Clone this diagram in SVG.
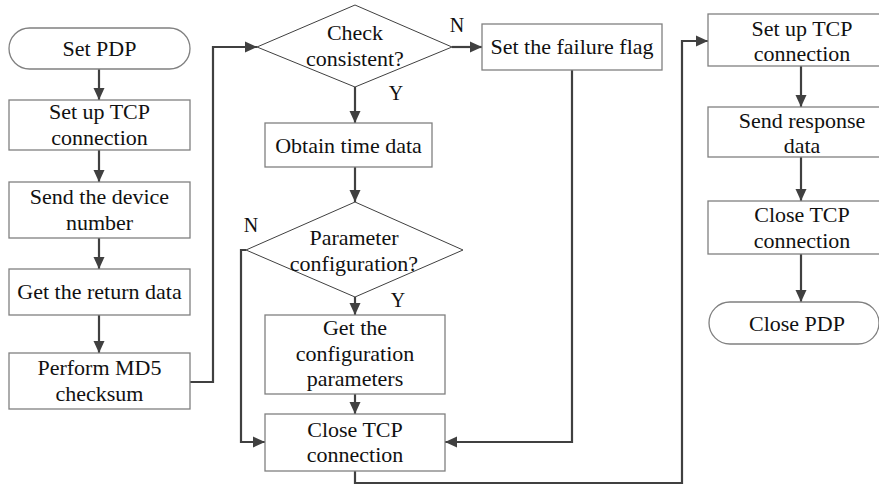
<svg xmlns="http://www.w3.org/2000/svg" width="879" height="484" viewBox="0 0 879 484">
<defs>
<marker id="arr" markerUnits="userSpaceOnUse" markerWidth="12" markerHeight="12" refX="12" refY="6" orient="auto">
<path d="M0,0.5 L12,6 L0,11.5 z" fill="#404040"/>
</marker>
<style>
.box{fill:#fff;stroke:#808080;stroke-width:1.3}
.dia{fill:#fff;stroke:#404040;stroke-width:1}
.t{font-family:'Liberation Serif','Times New Roman',Times,serif;font-size:22px;fill:#111;text-anchor:middle}
.lbl{font-family:'Liberation Serif','Times New Roman',Times,serif;font-size:20px;fill:#111;text-anchor:middle}
.c{fill:none;stroke:#404040;stroke-width:2.2;marker-end:url(#arr)}
</style>
</defs>
<rect width="879" height="484" fill="#fff"/>
<g id="connectors">
<path class="c" d="M99,69 V100"/>
<path class="c" d="M99,150 V182"/>
<path class="c" d="M99,238 V269"/>
<path class="c" d="M99,315 V353"/>
<path class="c" d="M190,382 H213 V47 H257"/>
<path class="c" d="M452,47 H482"/>
<path class="c" d="M355,87 V123"/>
<path class="c" d="M355,167 V202"/>
<path class="c" d="M355,297 V315"/>
<path class="c" d="M355,394 V414"/>
<path class="c" d="M246,250 H241 V442 H265"/>
<path class="c" d="M572,70 V442 H445"/>
<path class="c" d="M355,471 V483 H682 V41 H708"/>
<path class="c" d="M801,66 V107"/>
<path class="c" d="M801,157 V201"/>
<path class="c" d="M801,254 V302"/>
<text class="lbl" x="457" y="32" font-family="Liberation Serif, serif">N</text>
<text class="lbl" x="396" y="100" font-family="Liberation Serif, serif">Y</text>
<text class="lbl" x="251" y="232" font-family="Liberation Serif, serif">N</text>
<text class="lbl" x="398" y="307" font-family="Liberation Serif, serif">Y</text>
</g>
<g id="setPDP"><rect class="box" x="9" y="28" width="181" height="41" rx="20.5" stroke="#404040"/><text class="t" x="99.5" y="56">Set PDP</text></g>
<g id="setupTCP1"><rect class="box" x="9" y="100" width="181" height="50"/><text class="t" x="99.5" y="119">Set up TCP</text><text class="t" x="99.5" y="145">connection</text></g>
<g id="sendDevice"><rect class="box" x="9" y="182" width="181" height="56"/><text class="t" x="99.5" y="204">Send the device</text><text class="t" x="99.5" y="230">number</text></g>
<g id="getReturn"><rect class="box" x="9" y="269" width="181" height="46"/><text class="t" x="99.5" y="299">Get the return data</text></g>
<g id="md5"><rect class="box" x="9" y="353" width="181" height="56"/><text class="t" x="99.5" y="375">Perform MD5</text><text class="t" x="99.5" y="401">checksum</text></g>
<g id="checkConsistent"><polygon class="dia" points="355,5 452,47 355,87 257,47"/><text class="t" x="355" y="40">Check</text><text class="t" x="355" y="66">consistent?</text></g>
<g id="failureFlag"><rect class="box" x="482" y="24" width="180" height="46"/><text class="t" x="572" y="54">Set the failure flag</text></g>
<g id="obtainTime"><rect class="box" x="265" y="123" width="167" height="44"/><text class="t" x="348.5" y="153">Obtain time data</text></g>
<g id="paramConfig"><polygon class="dia" points="355,202 463,250 355,297 246,250"/><text class="t" x="354" y="245">Parameter</text><text class="t" x="354" y="271">configuration?</text></g>
<g id="getConfig"><rect class="box" x="265" y="315" width="180" height="79"/><text class="t" x="355" y="335">Get the</text><text class="t" x="355" y="361">configuration</text><text class="t" x="355" y="386">parameters</text></g>
<g id="closeTCP1"><rect class="box" x="265" y="414" width="180" height="57"/><text class="t" x="355" y="437">Close TCP</text><text class="t" x="355" y="462">connection</text></g>
<g id="setupTCP2"><rect class="box" x="708" y="14" width="188" height="52"/><text class="t" x="802" y="36">Set up TCP</text><text class="t" x="802" y="61">connection</text></g>
<g id="sendResponse"><rect class="box" x="708" y="107" width="188" height="50"/><text class="t" x="802" y="128">Send response</text><text class="t" x="802" y="153">data</text></g>
<g id="closeTCP2"><rect class="box" x="708" y="201" width="188" height="53"/><text class="t" x="802" y="222">Close TCP</text><text class="t" x="802" y="248">connection</text></g>
<g id="closePDP"><rect class="box" x="709" y="302" width="170" height="42" rx="21" stroke="#404040"/><text class="t" x="797" y="331">Close PDP</text></g>
</svg>
